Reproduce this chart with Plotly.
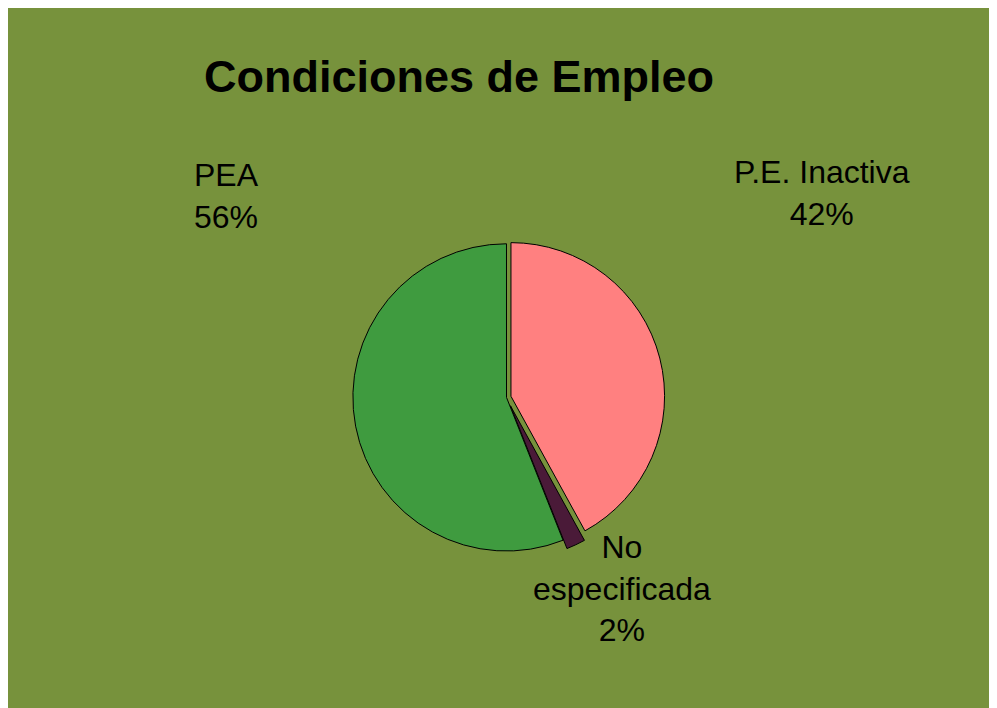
import plotly.graph_objects as go

labels = ["P.E. Inactiva", "No especificada", "PEA"]
values = [42, 2, 56]
label_text = ["P.E. Inactiva<br>42%", "No<br>especificada<br>2%", "PEA<br>56%"]
colors = ["#FF8080", "#4A1A38", "#3F9B3F"]
title_text = "Condiciones de Empleo"

W, H = 997, 708
OFF = 8  # page body margin
fig = go.Figure()
fig.add_trace(go.Pie(
    labels=labels, values=values, sort=False, direction="clockwise", rotation=0,
    marker=dict(colors=colors, line=dict(color="black", width=1)),
    textinfo="none", hoverinfo="label+percent", showlegend=False,
    pull=[0.03, 0.06, 0.0],
    domain=dict(x=[0.06, 0.94], y=[0.22, 0.68]),
))

# label positions (screen pixels)
pos = [(822, 193), (622, 588), (226, 196)]
for (px, py), t in zip(pos, label_text):
    fig.add_annotation(x=(px - OFF) / W, y=1 - (py - OFF) / H, xref="paper", yref="paper",
                       text=t, showarrow=False, xanchor="center", yanchor="middle",
                       font=dict(family="Liberation Sans, Arial", size=32, color="black"))

fig.add_annotation(x=(459 - OFF) / W, y=1 - (76 - OFF) / H, xref="paper", yref="paper",
                   text="<b>" + title_text + "</b>", showarrow=False,
                   xanchor="center", yanchor="middle",
                   font=dict(family="Liberation Sans, Arial", size=45, color="black"))

fig.update_layout(width=W, height=H, margin=dict(l=0, r=0, t=0, b=0),
                  paper_bgcolor="rgb(119,146,60)", plot_bgcolor="rgb(119,146,60)")
fig.write_html("out.html")
